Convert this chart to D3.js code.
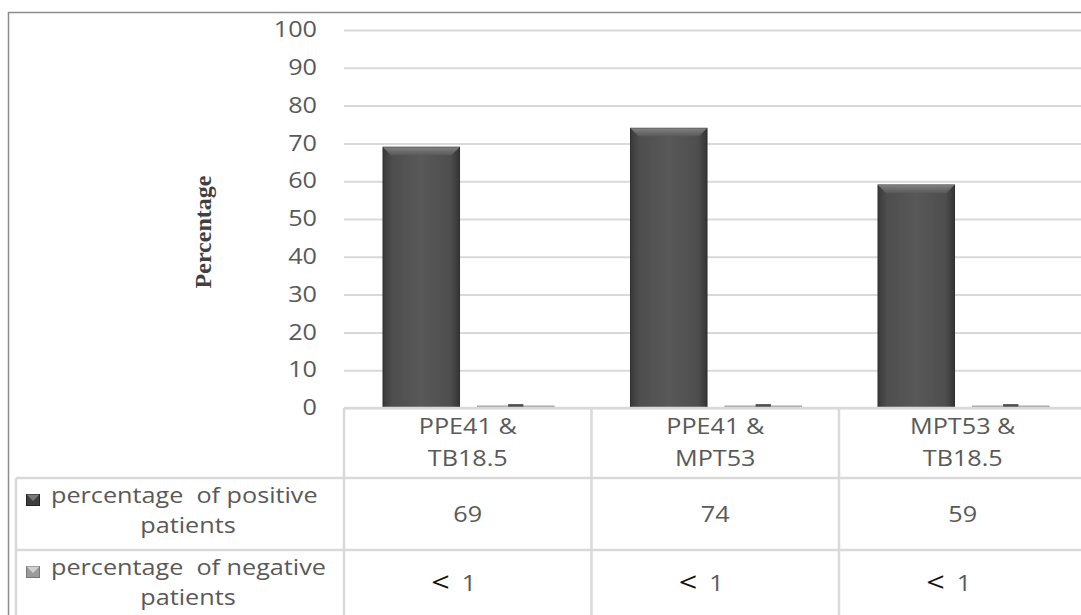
<!DOCTYPE html>
<html>
<head>
<meta charset="utf-8">
<script src="https://cdn.jsdelivr.net/npm/d3@7"></script>
<style>
  body { margin: 0; background: #fff; }
  text { font-family: "Open Sans", "DejaVu Sans", sans-serif; white-space: pre; }
</style>
</head>
<body>
<div id="graph"></div>
<script>
"use strict";

// chart values
const categories = [["PPE41 &", "TB18.5"], ["PPE41 &", "MPT53"], ["MPT53 &", "TB18.5"]];
const seriesNames = [["percentage  of positive", "patients"], ["percentage  of negative", "patients"]];
const positive = [69, 74, 59];
const negative = [0.5, 0.5, 0.5];
const positiveLabels = ["69", "74", "59"];
const negativeLabels = ["1", "1", "1"];
const yTicks = [0, 10, 20, 30, 40, 50, 60, 70, 80, 90, 100];

var width = 1081,
    height = 615;

const gridCol = "#d9d9d9";
const textCol = "#595959";
const stretch = 1.2; // the source text is drawn wide

let svg = d3.select("#graph")
    .append("svg")
    .attr("width", width)
    .attr("height", height);

let defs = svg.append("defs");
let g1 = defs.append("linearGradient").attr("id", "posGrad");
g1.append("stop").attr("offset", "0%").attr("stop-color", "#3a3a3a");
g1.append("stop").attr("offset", "12%").attr("stop-color", "#4e4e4e");
g1.append("stop").attr("offset", "50%").attr("stop-color", "#585858");
g1.append("stop").attr("offset", "88%").attr("stop-color", "#4e4e4e");
g1.append("stop").attr("offset", "100%").attr("stop-color", "#343434");
let g2 = defs.append("linearGradient").attr("id", "bevelGrad")
    .attr("x1", 0).attr("x2", 0).attr("y1", 0).attr("y2", 1);
g2.append("stop").attr("offset", "0%").attr("stop-color", "#8a8a8a");
g2.append("stop").attr("offset", "100%").attr("stop-color", "#5a5a5a");

// wide text helper
function wideText(parent, x, y, str, size, anchor, col) {
    return parent.append("g")
        .attr("transform", "translate(" + x + "," + y + ") scale(" + stretch + ",1)")
        .append("text")
        .attr("text-anchor", anchor || "start")
        .attr("fill", col || textCol)
        .style("font-size", size + "px")
        .text(str);
}

// outer chart border
svg.append("rect")
    .attr("x", 8.5).attr("y", 12.5)
    .attr("width", 1200).attr("height", 700)
    .attr("fill", "none")
    .attr("stroke", "#8c8c8c")
    .attr("stroke-width", 1.5);

let x = d3.scaleBand()
    .domain(d3.range(categories.length))
    .range([344, 344 + 3 * 247.5]);

let xs = d3.scaleBand()
    .domain(["pos", "neg"])
    .range([39, 210])
    .paddingInner(0.19);

let y = d3.scaleLinear()
    .domain([0, 100])
    .range([408, 30]);

// gridlines + tick labels
let yAxis = svg.append("g")
    .attr("transform", "translate(344,0)")
    .call(d3.axisLeft(y).tickValues(yTicks).tickSize(-800).tickPadding(0));
yAxis.select(".domain").remove();
yAxis.selectAll("line").attr("stroke", gridCol).attr("stroke-width", 2);
yAxis.selectAll("text")
    .attr("x", -27 / stretch)
    .attr("transform", "scale(" + stretch + ",1)")
    .attr("fill", textCol)
    .style("font-size", "21px")
    .style("font-family", "'Open Sans', sans-serif");

svg.append("text")
    .attr("transform", "translate(211,232) rotate(-90)")
    .attr("text-anchor", "middle")
    .style("font-family", "'Liberation Serif', 'DejaVu Serif', serif")
    .style("font-weight", "bold")
    .style("font-size", "24px")
    .attr("fill", "#404040")
    .text("Percentage");

// positive bars
let pos = svg.append("g").attr("id", "pos");
pos.selectAll("rect")
    .data(positive)
    .enter()
    .append("rect")
    .attr("x", (d, i) => x(i) + xs("pos"))
    .attr("y", d => y(d))
    .attr("width", xs.bandwidth())
    .attr("height", d => y(0) - y(d))
    .attr("fill", "url(#posGrad)")
    .attr("stroke", "#2e2e2e")
    .attr("stroke-width", 1);

// bevel on top of bars
pos.selectAll(".bevel")
    .data(positive)
    .enter()
    .append("path")
    .attr("class", "bevel")
    .attr("d", function (d, i) {
        let x0 = x(i) + xs("pos"), w = xs.bandwidth(), t = y(d);
        return "M" + x0 + "," + t + "L" + (x0 + w) + "," + t +
            "L" + (x0 + w - 8) + "," + (t + 8) + "L" + (x0 + 8) + "," + (t + 8) + "Z";
    })
    .attr("fill", "url(#bevelGrad)")
    .attr("opacity", 0.85);

// negative bars
let neg = svg.append("g").attr("id", "neg");
neg.selectAll("rect")
    .data(negative)
    .enter()
    .append("rect")
    .attr("x", (d, i) => x(i) + xs("neg"))
    .attr("y", d => y(d))
    .attr("width", xs.bandwidth())
    .attr("height", d => y(0) - y(d))
    .attr("fill", "#c8c8c8")
    .attr("stroke", "#8a8a8a")
    .attr("stroke-width", 1);
neg.selectAll(".mid")
    .data(negative)
    .enter()
    .append("rect")
    .attr("class", "mid")
    .attr("x", (d, i) => x(i) + xs("neg") + xs.bandwidth() * 0.4)
    .attr("y", d => y(d) - 2)
    .attr("width", xs.bandwidth() * 0.2)
    .attr("height", d => y(0) - y(d) + 2)
    .attr("fill", "#505050");

// data table
let table = svg.append("g").attr("id", "table");
let rowY = [408, 478, 550, 622];
let colX = [344, 591.5, 839, 1086.5];

table.append("line")
    .attr("x1", 344).attr("x2", 1081)
    .attr("y1", rowY[0]).attr("y2", rowY[0])
    .attr("stroke", gridCol).attr("stroke-width", 2.5);
[rowY[1], rowY[2]].forEach(function (ry) {
    table.append("line")
        .attr("x1", 16).attr("x2", 1081)
        .attr("y1", ry).attr("y2", ry)
        .attr("stroke", gridCol).attr("stroke-width", 2.5);
});
colX.forEach(function (cx) {
    table.append("line")
        .attr("x1", cx).attr("x2", cx)
        .attr("y1", rowY[0]).attr("y2", height)
        .attr("stroke", gridCol).attr("stroke-width", 2.5);
});
table.append("line")
    .attr("x1", 16).attr("x2", 16)
    .attr("y1", rowY[1]).attr("y2", height)
    .attr("stroke", gridCol).attr("stroke-width", 2.5);

// category labels
categories.forEach(function (c, i) {
    c.forEach(function (line, j) {
        wideText(table, x(i) + x.bandwidth() / 2, 434 + j * 32, line, 21, "middle");
    });
});

// legend column
seriesNames.forEach(function (s, r) {
    let top = rowY[r + 1];
    table.append("rect")
        .attr("x", 26.5).attr("y", top + 16.5)
        .attr("width", 13).attr("height", 11)
        .attr("fill", r == 0 ? "#3e3e3e" : "#9a9a9a")
        .attr("stroke", r == 0 ? "#222" : "#777");
    table.append("path")
        .attr("d", "M26.5," + (top + 16.5) + "L39.5," + (top + 16.5) + "L33," + (top + 23) + "Z")
        .attr("fill", r == 0 ? "#777" : "#d0d0d0");
    wideText(table, 51, top + 25, s[0], 21, "start");
    wideText(table, 188, top + 55, s[1], 21, "middle");
});

// value cells
positiveLabels.forEach(function (v, i) {
    wideText(table, x(i) + x.bandwidth() / 2, 522, v, 21, "middle");
});
negativeLabels.forEach(function (v, i) {
    let cx = x(i) + x.bandwidth() / 2;
    wideText(table, cx - 18, 592, "<", 27, "end", "#111");
    wideText(table, cx - 6, 591, v, 21, "start");
});
</script>
</body>
</html>
